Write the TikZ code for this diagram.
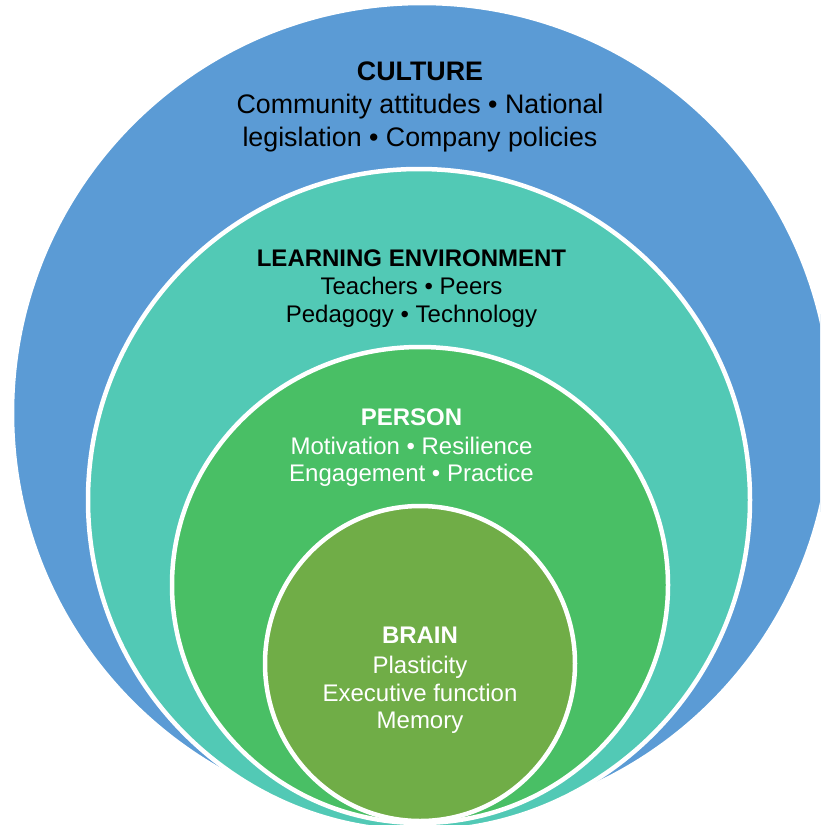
\documentclass[tikz,border=0pt]{standalone}
\usepackage{fontspec}
\setmainfont{Liberation Sans}
\definecolor{cultureblue}{HTML}{5B9BD5}
\definecolor{envteal}{HTML}{52C9B5}
\definecolor{persongreen}{HTML}{49BF65}
\definecolor{brainolive}{HTML}{70AD47}
\begin{document}
\begin{tikzpicture}[x=1pt,y=-1pt,
  ring/.style={fill=#1, draw=white, line width=4.5pt},
  heading/.style={anchor=base, inner sep=0pt, font=\fontsize{24}{28}\selectfont\bfseries},
  entry/.style={anchor=base, inner sep=0pt, font=\fontsize{24}{28}\selectfont},
  bigheading/.style={anchor=base, inner sep=0pt, font=\fontsize{26.8}{31}\selectfont\bfseries},
  bigentry/.style={anchor=base, inner sep=0pt, font=\fontsize{26.8}{31}\selectfont},
  dark/.style={text=black},
  light/.style={text=white}]
\useasboundingbox (0,0) rectangle (820,825);

% nested layers, clipped to the page frame
\begin{scope}
  \clip (0,0) rectangle (820,825);
  \path[ring=cultureblue] (422,413) circle[radius=410pt];
  \path[ring=envteal] (419,500) circle[radius=331pt];
  \path[ring=persongreen] (420,585) ellipse[x radius=248pt, y radius=238pt];
  \path[ring=brainolive] (420,663.5) ellipse[x radius=155pt, y radius=157.5pt];
\end{scope}

% culture
\node[bigheading, dark] (cultureT) at (420,80) {CULTURE};
\node[bigentry, dark] (cultureA) at (420,113) {Community attitudes • National};
\node[bigentry, dark] (cultureB) at (420,146) {legislation • Company policies};

% learning environment
\node[heading, dark] (envT) at (411.5,266) {LEARNING ENVIRONMENT};
\node[entry, dark] (envA) at (411.5,294) {Teachers • Peers};
\node[entry, dark] (envB) at (411.5,322) {Pedagogy • Technology};

% person
\node[heading, light] (personT) at (411.5,425) {PERSON};
\node[entry, light] (personA) at (411.5,454) {Motivation • Resilience};
\node[entry, light] (personB) at (411.5,481) {Engagement • Practice};

% brain
\node[heading, light] (brainT) at (420,643) {BRAIN};
\node[entry, light] (brainA) at (420,673) {Plasticity};
\node[entry, light] (brainB) at (420,701) {Executive function};
\node[entry, light] (brainC) at (420,728) {Memory};
\end{tikzpicture}
\end{document}
